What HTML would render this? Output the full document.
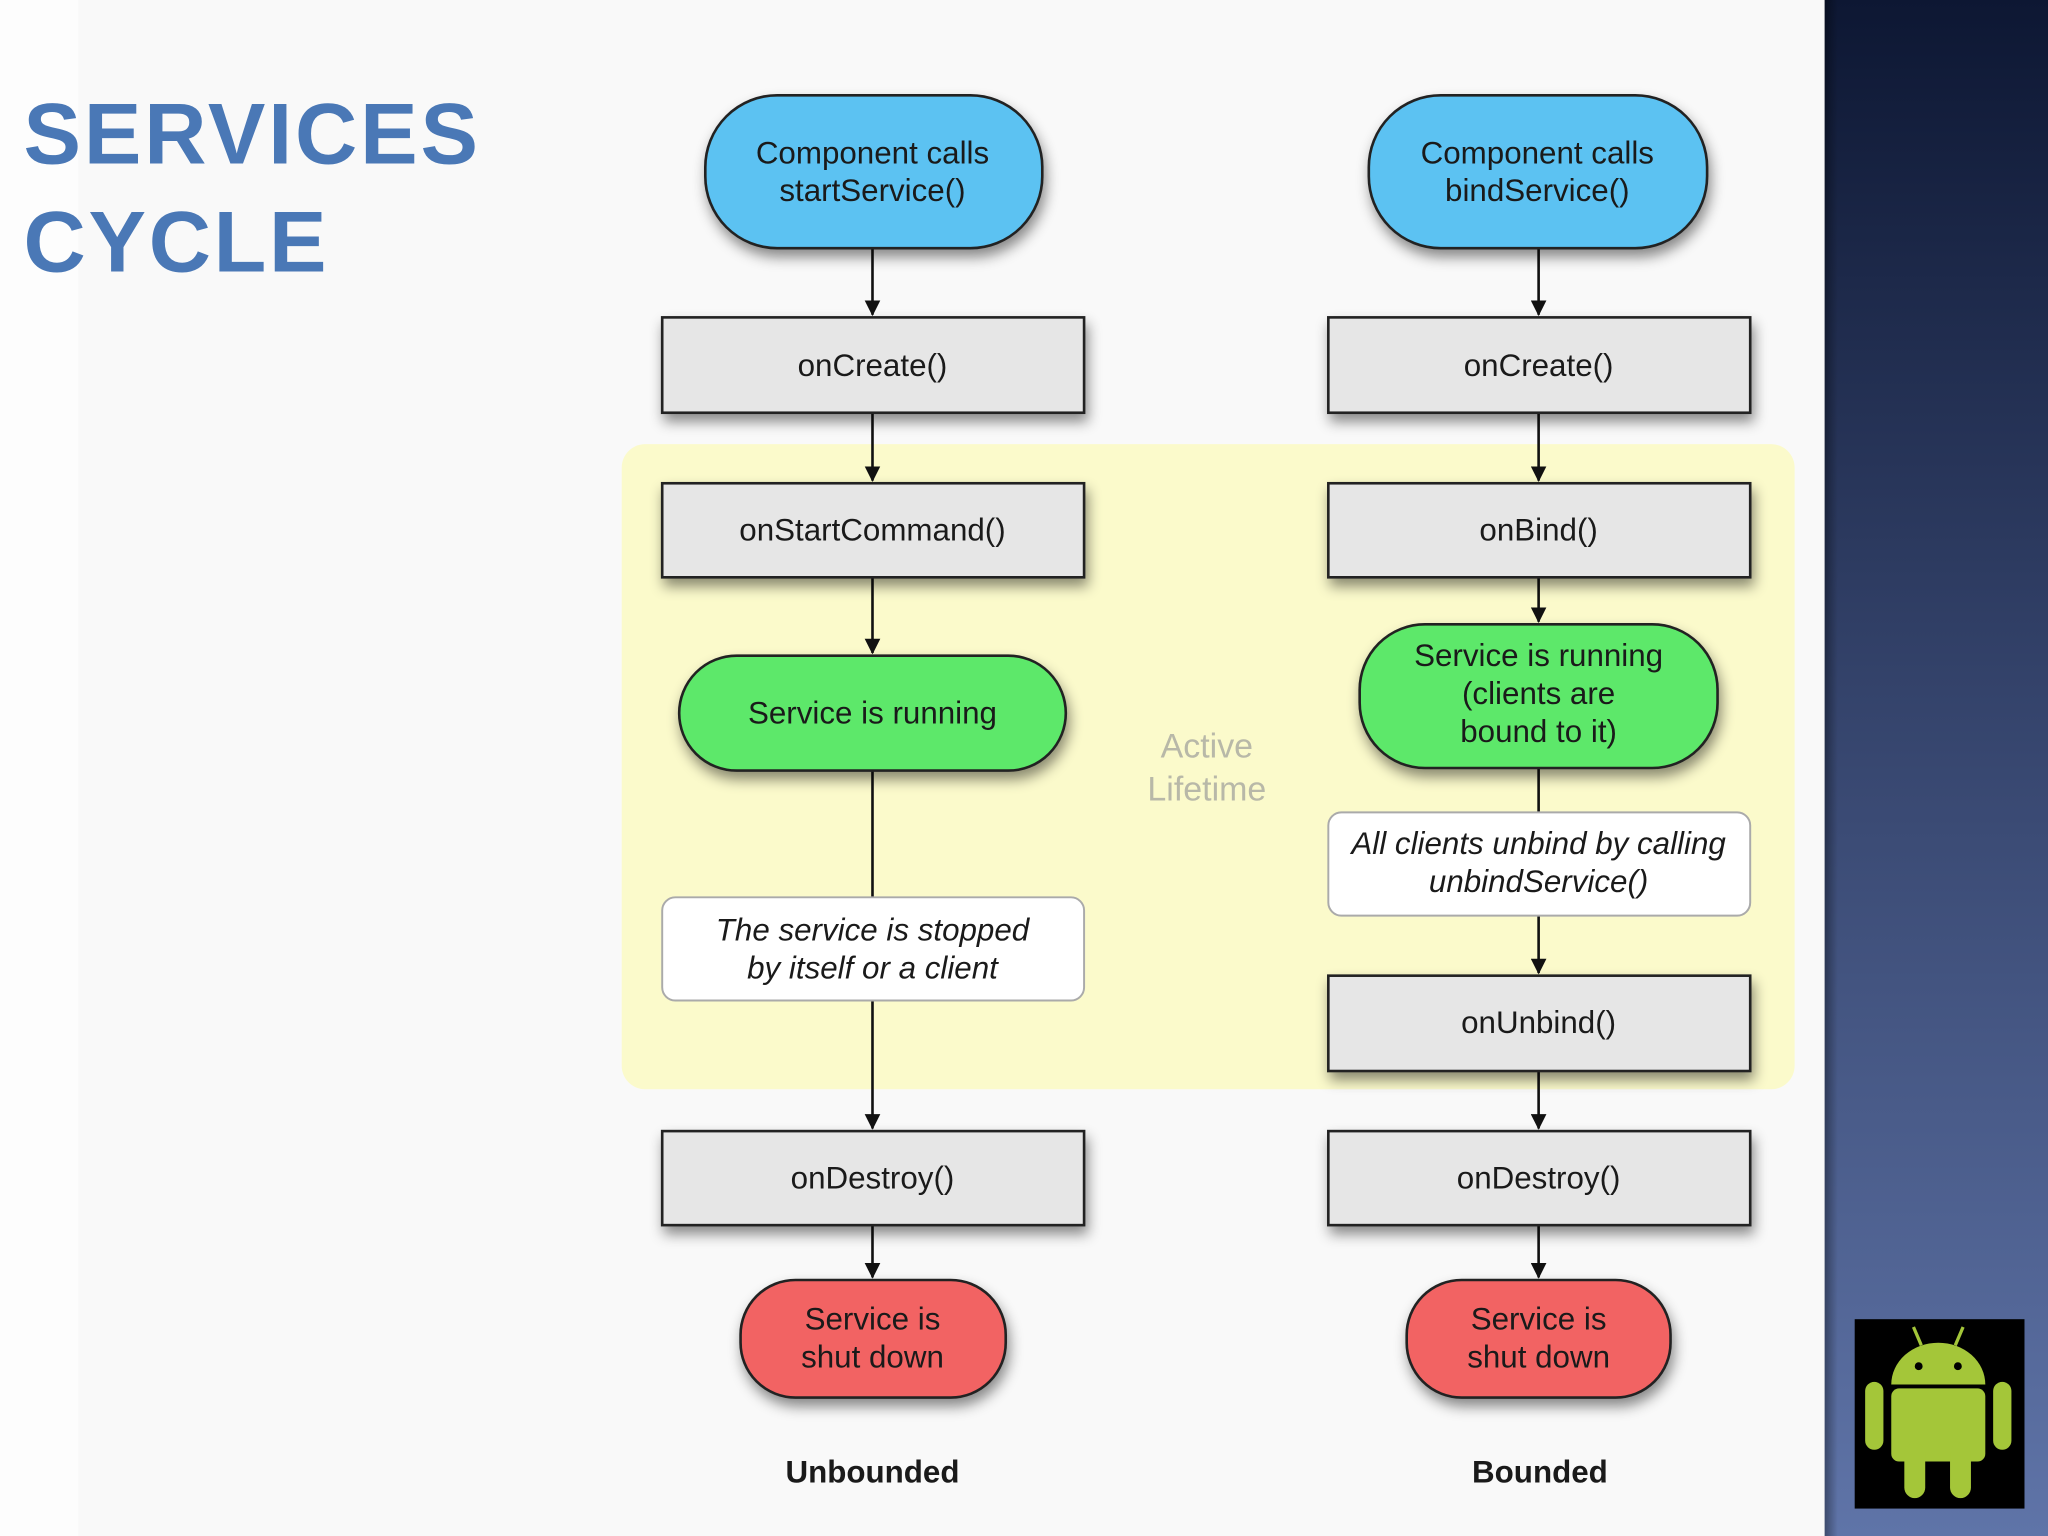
<!DOCTYPE html>
<html><head><meta charset="utf-8"><style>
html,body{margin:0;padding:0;width:2048px;height:1536px;overflow:hidden;background:#fff}
svg{display:block}
text{font-family:"Liberation Sans",sans-serif}
</style></head><body>
<svg width="2048" height="1536" viewBox="0 0 1568 1176" xmlns="http://www.w3.org/2000/svg">
<defs>
<linearGradient id="pan" x1="0" y1="0" x2="0" y2="1">
<stop offset="0" stop-color="#0d1733"/><stop offset="0.45" stop-color="#34436b"/><stop offset="1" stop-color="#5f74a8"/>
</linearGradient>
<linearGradient id="panEdge" x1="0" y1="0" x2="1" y2="0">
<stop offset="0" stop-color="#000" stop-opacity="0.35"/><stop offset="1" stop-color="#000" stop-opacity="0"/>
</linearGradient>
<filter id="sh" x="-20%" y="-20%" width="140%" height="150%">
<feDropShadow dx="2" dy="6" stdDeviation="5" flood-color="#000" flood-opacity="0.45"/>
</filter>
<marker id="ar" markerWidth="12" markerHeight="12" refX="11" refY="6" orient="auto" markerUnits="userSpaceOnUse">
<path d="M0,0 L12,6 L0,12 z" fill="#111"/>
</marker>
</defs>
<rect width="1568" height="1176" fill="#f9f9f9"/>
<rect x="0" y="0" width="60" height="1176" fill="#fdfdfd"/>
<rect x="1397" y="0" width="171" height="1176" fill="url(#pan)"/>
<rect x="1397" y="0" width="10" height="1176" fill="url(#panEdge)"/>

<text x="18" y="125" font-size="66" font-weight="bold" fill="#4a78b6" textLength="348">SERVICES</text>
<text x="18" y="208" font-size="66" font-weight="bold" fill="#4a78b6" textLength="232">CYCLE</text>

<rect x="476" y="340" width="898" height="494" rx="18" fill="#fbfacb"/>
<text x="924" y="580" font-size="26" fill="#b8b8a8" text-anchor="middle">Active</text>
<text x="924" y="613" font-size="26" fill="#b8b8a8" text-anchor="middle">Lifetime</text>

<g stroke="#111" stroke-width="2" fill="none">
<line x1="668" y1="190" x2="668" y2="241" marker-end="url(#ar)"/>
<line x1="668" y1="316" x2="668" y2="368" marker-end="url(#ar)"/>
<line x1="668" y1="442" x2="668" y2="500" marker-end="url(#ar)"/>
<line x1="668" y1="590" x2="668" y2="864" marker-end="url(#ar)"/>
<line x1="668" y1="938" x2="668" y2="978" marker-end="url(#ar)"/>
<line x1="1178" y1="190" x2="1178" y2="241" marker-end="url(#ar)"/>
<line x1="1178" y1="316" x2="1178" y2="368" marker-end="url(#ar)"/>
<line x1="1178" y1="442" x2="1178" y2="476" marker-end="url(#ar)"/>
<line x1="1178" y1="588" x2="1178" y2="622"/>
<line x1="1178" y1="701" x2="1178" y2="745" marker-end="url(#ar)"/>
<line x1="1178" y1="820" x2="1178" y2="864" marker-end="url(#ar)"/>
<line x1="1178" y1="938" x2="1178" y2="978" marker-end="url(#ar)"/>
</g>

<g stroke="#222" stroke-width="2">
<rect x="540" y="73" width="258" height="117" rx="55" fill="#5cc2f2" filter="url(#sh)"/>
<rect x="1048" y="73" width="259" height="117" rx="55" fill="#5cc2f2" filter="url(#sh)"/>
<rect x="507" y="243" width="323" height="73" fill="#e6e6e6" filter="url(#sh)"/>
<rect x="1017" y="243" width="323" height="73" fill="#e6e6e6" filter="url(#sh)"/>
<rect x="507" y="370" width="323" height="72" fill="#e6e6e6" filter="url(#sh)"/>
<rect x="1017" y="370" width="323" height="72" fill="#e6e6e6" filter="url(#sh)"/>
<rect x="520" y="502" width="296" height="88" rx="44" fill="#5de86a" filter="url(#sh)"/>
<rect x="1041" y="478" width="274" height="110" rx="50" fill="#5de86a" filter="url(#sh)"/>
<rect x="1017" y="747" width="323" height="73" fill="#e6e6e6" filter="url(#sh)"/>
<rect x="507" y="866" width="323" height="72" fill="#e6e6e6" filter="url(#sh)"/>
<rect x="1017" y="866" width="323" height="72" fill="#e6e6e6" filter="url(#sh)"/>
<rect x="567" y="980" width="203" height="90" rx="42" fill="#f26464" filter="url(#sh)"/>
<rect x="1077" y="980" width="202" height="90" rx="42" fill="#f26464" filter="url(#sh)"/>
</g>
<g stroke="#aaa" stroke-width="1.5" fill="#fff">
<rect x="507" y="687" width="323" height="79" rx="10"/>
<rect x="1017" y="622" width="323" height="79" rx="10"/>
</g>

<g font-size="24" fill="#1a1a1a" text-anchor="middle">
<text x="668" y="125">Component calls</text>
<text x="668" y="154">startService()</text>
<text x="1177" y="125">Component calls</text>
<text x="1177" y="154">bindService()</text>
<text x="668" y="288">onCreate()</text>
<text x="1178" y="288">onCreate()</text>
<text x="668" y="414">onStartCommand()</text>
<text x="1178" y="414">onBind()</text>
<text x="668" y="554">Service is running</text>
<text x="1178" y="510">Service is running</text>
<text x="1178" y="539">(clients are</text>
<text x="1178" y="568">bound to it)</text>
<text x="1178" y="791">onUnbind()</text>
<text x="668" y="910">onDestroy()</text>
<text x="1178" y="910">onDestroy()</text>
<text x="668" y="1018">Service is</text>
<text x="668" y="1047">shut down</text>
<text x="1178" y="1018">Service is</text>
<text x="1178" y="1047">shut down</text>
<g font-style="italic">
<text x="668" y="720">The service is stopped</text>
<text x="668" y="749">by itself or a client</text>
<text x="1178" y="654">All clients unbind by calling</text>
<text x="1178" y="683">unbindService()</text>
</g>
<text x="668" y="1135" font-weight="bold">Unbounded</text>
<text x="1179" y="1135" font-weight="bold">Bounded</text>
</g>

<rect x="1420" y="1010" width="130" height="145" fill="#000"/>
<g fill="#a4c639">
<path d="M1448,1060 a36,32 0 0 1 72,0 z"/>
<rect x="1448" y="1063" width="72" height="56" rx="6"/>
<rect x="1428" y="1058" width="14" height="52" rx="7"/>
<rect x="1526" y="1058" width="14" height="52" rx="7"/>
<rect x="1458" y="1105" width="16" height="42" rx="8"/>
<rect x="1493" y="1105" width="16" height="42" rx="8"/>
</g>
<g stroke="#a4c639" stroke-width="2.5"><line x1="1465" y1="1016" x2="1471" y2="1030"/><line x1="1503" y1="1016" x2="1497" y2="1030"/></g>
<circle cx="1469" cy="1046" r="3" fill="#000"/><circle cx="1499" cy="1046" r="3" fill="#000"/>
</svg>
</body></html>
